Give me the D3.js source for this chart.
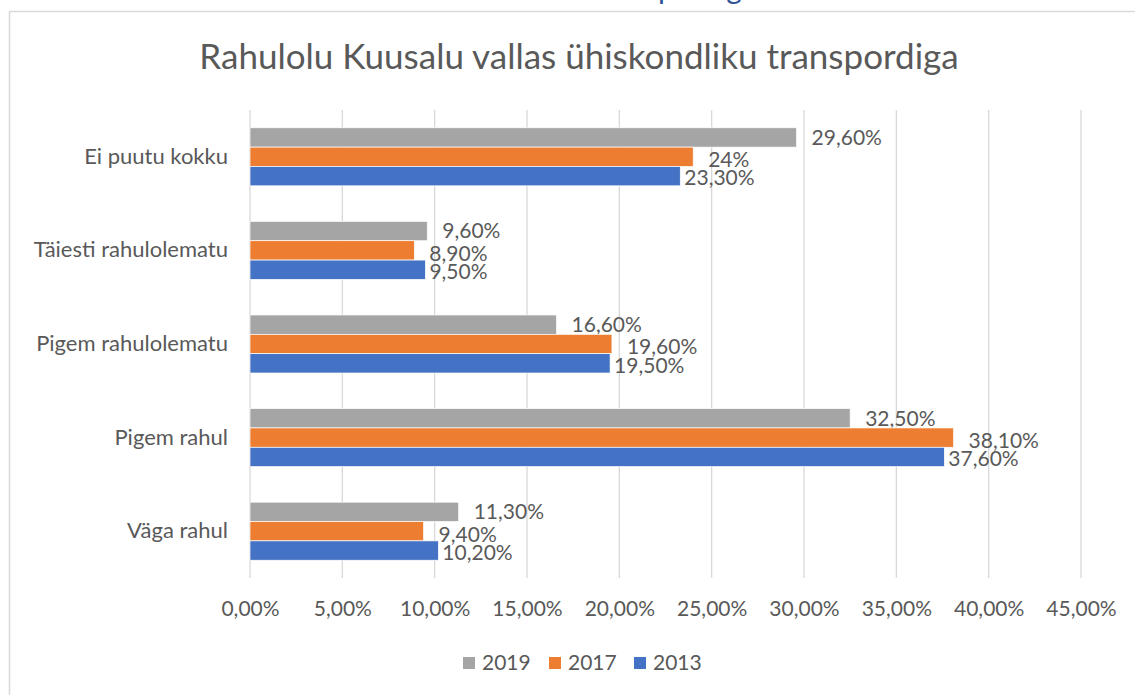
<!DOCTYPE html>
<html>
<head>
<meta charset="utf-8">
<script src="https://cdn.jsdelivr.net/npm/d3@7"></script>
<style>
  body { margin: 0; background: #fff; }
  svg text { font-family: Lato, "Open Sans", sans-serif; fill: #595959; }
</style>
</head>
<body>
<div id="chart"></div>
<script>
// categories top -> bottom
const categories = ["Ei puutu kokku", "Täiesti rahulolematu", "Pigem rahulolematu", "Pigem rahul", "Väga rahul"];
const years = ["2019", "2017", "2013"];
const values2019 = [29.6, 9.6, 16.6, 32.5, 11.3];
const values2017 = [24, 8.9, 19.6, 38.1, 9.4];
const values2013 = [23.3, 9.5, 19.5, 37.6, 10.2];
const labels2019 = ["29,60%", "9,60%", "16,60%", "32,50%", "11,30%"];
const labels2017 = ["24%", "8,90%", "19,60%", "38,10%", "9,40%"];
const labels2013 = ["23,30%", "9,50%", "19,50%", "37,60%", "10,20%"];
const xTicks = [0, 5, 10, 15, 20, 25, 30, 35, 40, 45];

const colors = {"2019": "#A5A5A5", "2017": "#ED7D31", "2013": "#4472C4"};
const seriesValues = {"2019": values2019, "2017": values2017, "2013": values2013};
const seriesLabels = {"2019": labels2019, "2017": labels2017, "2013": labels2013};

const width = 1135, height = 695;
const margin = {top: 110, left: 250, right: 54, bottom: 117};
const fontSize = "21px";

const svg = d3.select("#chart").append("svg")
    .attr("width", width)
    .attr("height", height);

// chart area outline (right and bottom edges run off the picture)
svg.append("rect")
    .attr("x", 9.5).attr("y", 11.5)
    .attr("width", 1200).attr("height", 800)
    .attr("fill", "none")
    .attr("stroke", "#d9d9d9")
    .attr("stroke-width", 1.5);

// heading above the chart, only its descenders are in view
svg.append("text")
    .attr("x", 592).attr("y", -1)
    .style("font-size", "30px")
    .style("fill", "#2F5597")
    .text("transpordiga");

svg.append("text")
    .attr("x", 579).attr("y", 69)
    .attr("text-anchor", "middle")
    .style("font-size", "35px")
    .text("Rahulolu Kuusalu vallas ühiskondliku transpordiga");

const x = d3.scaleLinear().domain([0, 45]).range([margin.left, width - margin.right]);
const y = d3.scaleBand().domain(categories).range([margin.top, height - margin.bottom]).paddingInner(0.38).paddingOuter(0.19);
const ySub = d3.scaleBand().domain(years).range([0, y.bandwidth()]);

// gridlines
svg.append("g")
    .selectAll("line")
    .data(xTicks)
    .join("line")
    .attr("x1", d => x(d)).attr("x2", d => x(d))
    .attr("y1", margin.top).attr("y2", height - margin.bottom)
    .attr("stroke", "#d9d9d9")
    .attr("stroke-width", 1.3);

// x axis labels
const xAxis = d3.axisBottom(x).tickValues(xTicks).tickSize(0).tickPadding(23)
    .tickFormat(d => d3.format(".2f")(d).replace(".", ",") + "%");
const xg = svg.append("g").attr("transform", `translate(0,${height - margin.bottom})`).call(xAxis);
xg.select(".domain").remove();
xg.selectAll("text").style("font-size", fontSize).style("font-family", null);

// y axis labels
const yAxis = d3.axisLeft(y).tickSize(0).tickPadding(22);
const yg = svg.append("g").attr("transform", `translate(${margin.left},0)`).call(yAxis);
yg.select(".domain").remove();
yg.selectAll("text").style("font-size", "22px").style("font-family", null);

// bars
const labelDx = {"2019": 15, "2017": 15, "2013": 4};
const labelDy = {"2019": 0, "2017": 3, "2013": 2};
for (const yr of years) {
    const g = svg.append("g");
    g.selectAll("rect")
        .data(categories)
        .join("rect")
        .attr("x", x(0))
        .attr("y", c => y(c) + ySub(yr))
        .attr("width", (c, i) => x(seriesValues[yr][i]) - x(0))
        .attr("height", ySub.bandwidth())
        .attr("fill", colors[yr])
        .attr("stroke", "#fff")
        .attr("stroke-width", 0.7);
    g.selectAll("text")
        .data(categories)
        .join("text")
        .attr("x", (c, i) => x(seriesValues[yr][i]) + labelDx[yr])
        .attr("y", c => y(c) + ySub(yr) + ySub.bandwidth() / 2 + labelDy[yr])
        .attr("dy", "0.35em")
        .style("font-size", fontSize)
        .text((c, i) => seriesLabels[yr][i]);
}

// legend
const legend = svg.append("g").attr("transform", "translate(463,663)");
const legendX = [0, 86, 171];
years.forEach((yr, i) => {
    const item = legend.append("g").attr("transform", `translate(${legendX[i]},0)`);
    item.append("rect").attr("x", 0).attr("y", -6).attr("width", 12).attr("height", 12).attr("fill", colors[yr]);
    item.append("text").attr("x", 19).attr("dy", "0.35em").style("font-size", fontSize).text(yr);
});
</script>
</body>
</html>
